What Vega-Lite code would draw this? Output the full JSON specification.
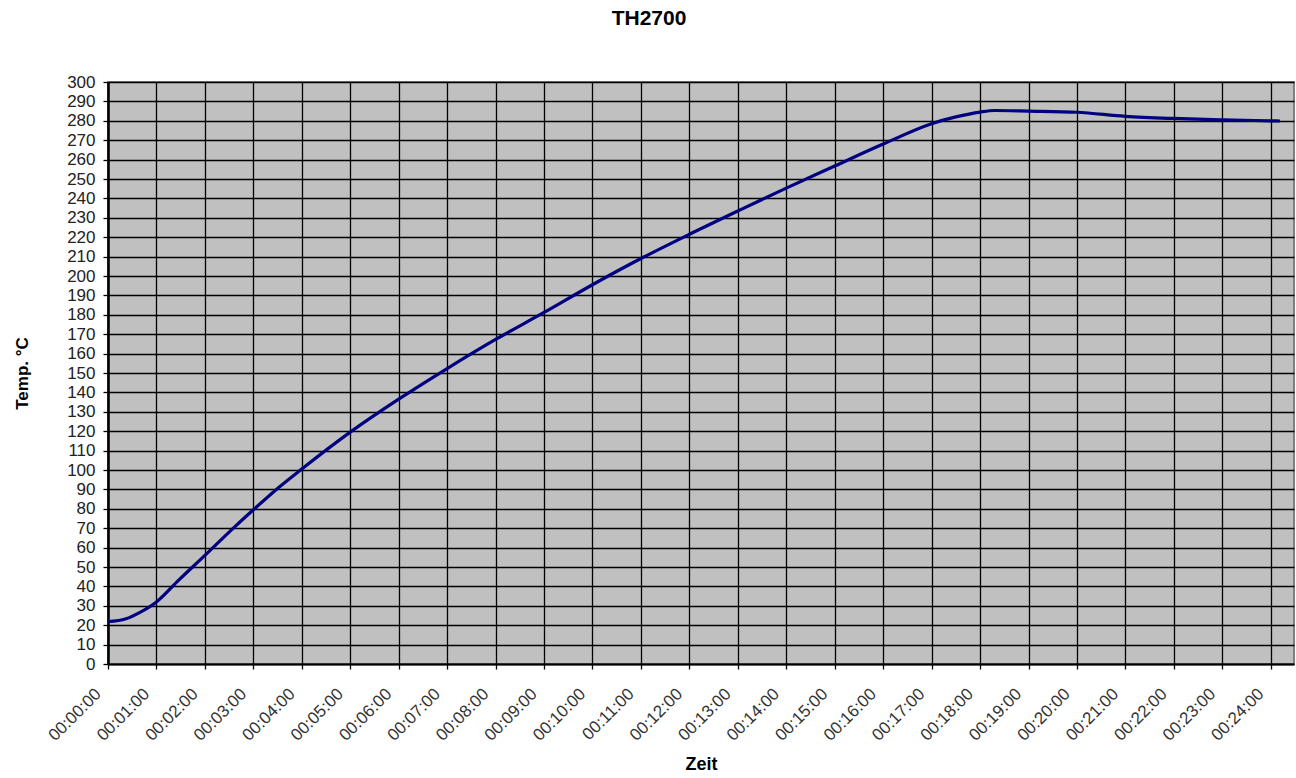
{
  "$schema": "https://vega.github.io/schema/vega-lite/v6.json",
  "width": 1186,
  "height": 582,
  "autosize": {"type": "none"},
  "padding": {"left": 108, "top": 82, "right": 2, "bottom": 114},
  "background": "white",
  "title": {"text": "TH2700", "fontSize": 21, "font": "Liberation Sans", "fontWeight": "bold", "anchor": "middle", "dx": -52, "offset": 23, "baseline": "bottom", "color": "black"},
  "config": {"view": {"fill": "#c0c0c0", "stroke": "#808080", "strokeWidth": 2}, "font": "Liberation Sans"},
  "data": {"values": [
    {"minute": 0, "temp": 21.8},
    {"minute": 0.37, "temp": 23.3},
    {"minute": 0.65, "temp": 26.5},
    {"minute": 1, "temp": 32},
    {"minute": 1.47, "temp": 43.5},
    {"minute": 2, "temp": 56},
    {"minute": 2.5, "temp": 68},
    {"minute": 3, "temp": 79.5},
    {"minute": 3.5, "temp": 90.5},
    {"minute": 4, "temp": 100.5},
    {"minute": 5, "temp": 119.5},
    {"minute": 6, "temp": 136.5},
    {"minute": 7, "temp": 152.3},
    {"minute": 8, "temp": 167.3},
    {"minute": 9, "temp": 181.2},
    {"minute": 10, "temp": 195.5},
    {"minute": 11, "temp": 209},
    {"minute": 12, "temp": 221.5},
    {"minute": 13, "temp": 233.5},
    {"minute": 14, "temp": 245.3},
    {"minute": 15, "temp": 256.7},
    {"minute": 16, "temp": 268},
    {"minute": 17, "temp": 278.5},
    {"minute": 17.5, "temp": 282},
    {"minute": 18, "temp": 284.5},
    {"minute": 18.3, "temp": 285.3},
    {"minute": 19, "temp": 285},
    {"minute": 20, "temp": 284.4},
    {"minute": 21, "temp": 282.3},
    {"minute": 22, "temp": 281.2},
    {"minute": 23, "temp": 280.5},
    {"minute": 24, "temp": 280},
    {"minute": 24.19, "temp": 279.9}
  ]},
  "mark": {"type": "line", "color": "#000080", "strokeWidth": 3.2, "interpolate": "monotone", "clip": true},
  "encoding": {
    "x": {
      "field": "minute", "type": "quantitative",
      "scale": {"domain": [0, 24.48], "nice": false, "zero": false},
      "axis": {
        "values": [0,1,2,3,4,5,6,7,8,9,10,11,12,13,14,15,16,17,18,19,20,21,22,23,24],
        "labelExpr": "'00:' + (datum.value < 10 ? '0' : '') + datum.value + ':00'",
        "labelAngle": -45, "labelAlign": "right", "labelBaseline": "middle",
        "labelFontSize": 17, "labelColor": "#333333", "labelPadding": 22, "labelOffset": -10,
        "labelOverlap": false,
        "tickColor": "black", "tickSize": 5, "tickWidth": 1.3,
        "domainColor": "black", "domainWidth": 2,
        "grid": true, "gridColor": "black", "gridWidth": 1.3, "gridOpacity": 1,
        "title": "Zeit", "titleFontSize": 18, "titleFontWeight": "bold", "titleColor": "black",
        "titleX": 593, "titleY": 100, "titleBaseline": "middle", "titleAlign": "center"
      }
    },
    "y": {
      "field": "temp", "type": "quantitative",
      "scale": {"domain": [0, 300], "nice": false},
      "axis": {
        "values": [0,10,20,30,40,50,60,70,80,90,100,110,120,130,140,150,160,170,180,190,200,210,220,230,240,250,260,270,280,290,300],
        "labelFontSize": 17, "labelColor": "#222222", "labelPadding": 8,
        "labelOverlap": false,
        "tickColor": "black", "tickSize": 5, "tickWidth": 1.3,
        "domainColor": "black", "domainWidth": 2.5,
        "grid": true, "gridColor": "black", "gridWidth": 1.3, "gridOpacity": 1,
        "title": "Temp. °C", "titleFontSize": 17, "titleFontWeight": "bold", "titleColor": "black",
        "titleX": -86, "titleY": 291, "titleAngle": -90, "titleBaseline": "middle", "titleAlign": "center"
      }
    }
  }
}
